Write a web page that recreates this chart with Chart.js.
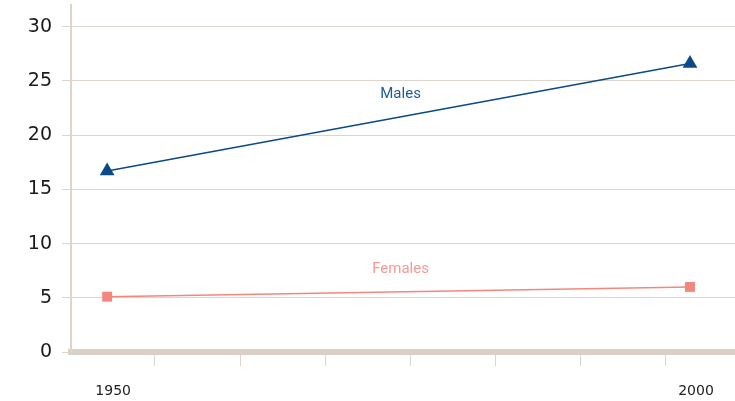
<!DOCTYPE html>
<html>
<head>
<meta charset="utf-8">
<script src="https://cdn.jsdelivr.net/npm/chart.js@4"></script>
<style>
  html, body { margin: 0; padding: 0; background: #fff; }
  #wrap { width: 735px; height: 401px; }
</style>
</head>
<body>
<div id="wrap"><canvas id="chart"></canvas></div>
<script>
// ===== DATA =====
const years = [1950, 2000];
const males = [16.7, 26.6];
const females = [5.1, 6.0];
const seriesNames = ['Males', 'Females'];
const yTicks = [0, 5, 10, 15, 20, 25, 30];
// small tick marks along the bottom axis (no labels)
const markYears = [1954.1, 1961.4, 1968.7, 1976.0, 1983.3, 1990.6, 1997.9];

const blue = '#0b4a85';
const salmon = '#f3877e';
const beige = '#ddd5cc';
const font = "'DejaVu Sans', sans-serif";

// Draws the series name above the middle of each line
const seriesLabels = {
    id: 'seriesLabels',
    afterDatasetsDraw(chart) {
        const ctx = chart.ctx;
        const colors = ['#1f5c99', '#f59a92'];
        chart.data.datasets.forEach((ds, i) => {
            const pts = chart.getDatasetMeta(i).data;
            const x = (pts[0].x + pts[1].x) / 2;
            const y = (pts[0].y + pts[1].y) / 2;
            ctx.save();
            ctx.font = "15px Roboto, sans-serif";
            ctx.fillStyle = colors[i];
            ctx.textAlign = 'center';
            ctx.textBaseline = 'middle';
            ctx.fillText(seriesNames[i], x + 2, y - 23);
            ctx.restore();
        });
    }
};

new Chart(document.getElementById('chart'), {
    type: 'line',
    data: {
        datasets: [
            {
                label: seriesNames[0],
                data: years.map((y, i) => ({ x: y, y: males[i] })),
                borderColor: blue,
                backgroundColor: blue,
                borderWidth: 1.5,
                pointStyle: 'triangle',
                pointRadius: 8.5,
                pointBorderWidth: 0
            },
            {
                label: seriesNames[1],
                data: years.map((y, i) => ({ x: y, y: females[i] })),
                borderColor: salmon,
                backgroundColor: salmon,
                borderWidth: 1.5,
                pointStyle: 'rect',
                pointRadius: 7,
                pointBorderWidth: 0
            }
        ]
    },
    options: {
        responsive: true,
        maintainAspectRatio: false,
        animation: false,
        layout: { autoPadding: false, padding: { top: 5, right: 0, left: 0, bottom: 0 } },
        plugins: { legend: { display: false }, tooltip: { enabled: false } },
        scales: {
            x: {
                type: 'linear',
                min: 1946.9,
                max: 2003.86,
                afterBuildTicks: (axis) => {
                    axis.ticks = years.concat(markYears).map(v => ({ value: v }));
                },
                afterFit: (axis) => {
                    axis.height = 49;
                    axis.paddingLeft = 0;
                    axis.paddingRight = 0;
                },
                grid: {
                    drawOnChartArea: false,
                    tickLength: 14,
                    tickWidth: 1,
                    tickColor: (c) => years.includes(c.tick.value) ? 'rgba(0,0,0,0)' : beige
                },
                border: { display: true, color: '#d9d0c6', width: 6 },
                ticks: {
                    autoSkip: false,
                    maxRotation: 0,
                    padding: 17,
                    labelOffset: 6,
                    color: '#222',
                    font: { family: font, size: 14 },
                    callback: (v) => years.includes(v) ? String(v) : ''
                }
            },
            y: {
                min: 0,
                max: 32,
                afterBuildTicks: (axis) => {
                    axis.ticks = yTicks.map(v => ({ value: v }));
                },
                afterFit: (axis) => {
                    axis.width = 71;
                    axis.paddingTop = 0;
                    axis.paddingBottom = 0;
                },
                grid: {
                    color: (c) => c.tick.value === 0 ? 'rgba(0,0,0,0)' : beige,
                    lineWidth: 1,
                    tickLength: 9,
                    tickColor: beige
                },
                border: { display: true, color: beige, width: 2 },
                ticks: {
                    padding: 10,
                    color: '#1a1a1a',
                    font: { family: font, size: 19 }
                }
            }
        }
    },
    plugins: [seriesLabels]
});
</script>
</body>
</html>
